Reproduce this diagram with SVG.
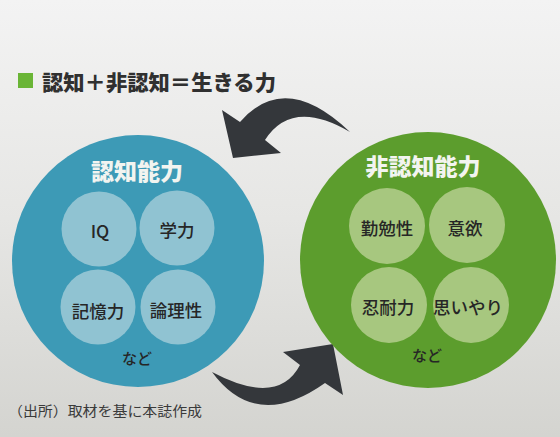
<svg xmlns="http://www.w3.org/2000/svg" width="560" height="437" viewBox="0 0 560 437">
<defs>
<linearGradient id="bg" x1="0" y1="0" x2="0" y2="1">
<stop offset="0" stop-color="#f3f3f3"/>
<stop offset="0.5" stop-color="#e6e6e4"/>
<stop offset="1" stop-color="#d4d4d0"/>
</linearGradient>
<style>
.jp{font-family:"Noto Sans CJK JP","Noto Sans",sans-serif;}
.title{font-size:23px;font-weight:900;fill:#f2f4f0;text-anchor:middle;dominant-baseline:central;}
.item{font-size:17.5px;font-weight:500;fill:#262626;text-anchor:middle;dominant-baseline:central;}
.etc{font-size:15px;font-weight:500;fill:#262626;text-anchor:middle;dominant-baseline:central;}
.bluein{fill:#90c3d2;}
.greenin{fill:#a7c77f;}
.arrow{fill:#34373b;}
</style>
</defs>
<rect x="0" y="0" width="560" height="437" fill="url(#bg)"/>
<g id="header">
<rect x="18" y="73" width="15" height="15" fill="#6ab536"/>
<text class="jp" x="42" y="81" font-size="21" font-weight="900" fill="#303030" dominant-baseline="central" textLength="234" lengthAdjust="spacingAndGlyphs">認知＋非認知＝生きる力</text>
</g>
<g id="connectors">
<path class="arrow" d="M222,110 L240,122 Q285,70 350,132 Q292,98 265,140 L281,153 L233,158 Z"/>
<path class="arrow" d="M212,372 Q278,407 300,365 L283,352 L333,344 L343,395 L325,383 Q256,432 212,372 Z"/>
</g>
<g id="cognitive">
<circle cx="138" cy="261" r="126" fill="#3d9ab6"/>
<text class="jp title" x="137" y="170">認知能力</text>
<circle class="bluein" cx="99" cy="229" r="37.5"/>
<circle class="bluein" cx="177" cy="228" r="37.5"/>
<circle class="bluein" cx="98" cy="307" r="37.5"/>
<circle class="bluein" cx="178" cy="307" r="37.5"/>
<text class="jp item" x="100" y="230">IQ</text>
<text class="jp item" x="177" y="229">学力</text>
<text class="jp item" x="98" y="310">記憶力</text>
<text class="jp item" x="176" y="309">論理性</text>
<text class="jp etc" x="137" y="357">など</text>
</g>
<g id="noncognitive">
<circle cx="428" cy="260" r="128" fill="#5c9d2d"/>
<text class="jp title" x="423" y="165">非認知能力</text>
<circle class="greenin" cx="387" cy="226" r="38"/>
<circle class="greenin" cx="467" cy="225" r="38"/>
<circle class="greenin" cx="389" cy="305" r="38"/>
<circle class="greenin" cx="471" cy="305" r="38"/>
<text class="jp item" x="387" y="227">勤勉性</text>
<text class="jp item" x="465" y="227">意欲</text>
<text class="jp item" x="388" y="306">忍耐力</text>
<text class="jp item" x="468" y="306">思いやり</text>
<text class="jp etc" x="427" y="354">など</text>
</g>
<g id="source">
<text class="jp" x="8" y="410" font-size="14" fill="#3a3a3a" dominant-baseline="central" textLength="194" lengthAdjust="spacingAndGlyphs">（出所）取材を基に本誌作成</text>
</g>
</svg>
